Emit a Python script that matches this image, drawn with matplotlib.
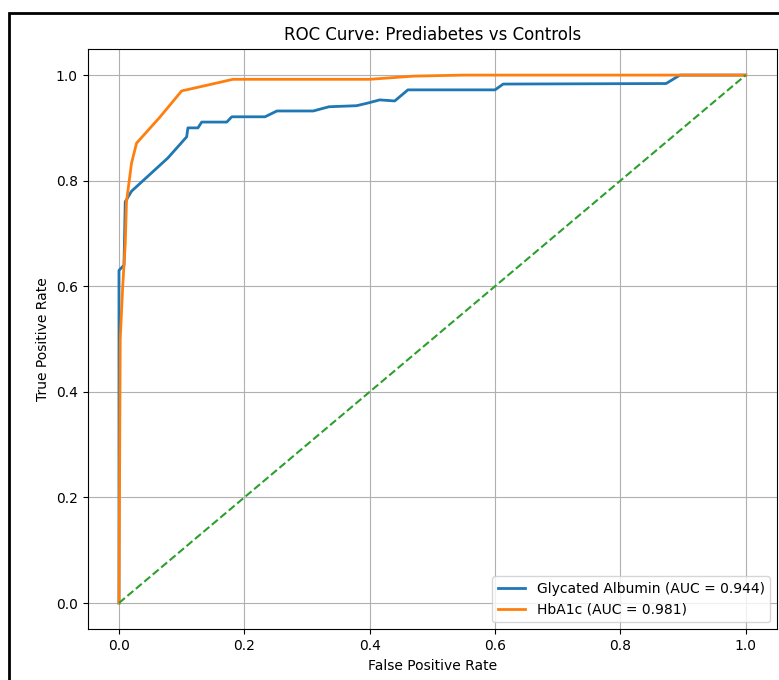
import matplotlib
matplotlib.use("Agg")
import matplotlib.pyplot as plt
from matplotlib.patches import Rectangle

# Glycated Albumin ROC
ga_fpr = [0.0, 0.0, 0.008, 0.01, 0.02, 0.078, 0.108, 0.11, 0.126, 0.132, 0.172, 0.18,
          0.233, 0.252, 0.31, 0.335, 0.379, 0.397, 0.416, 0.44, 0.461, 0.6, 0.613,
          0.873, 0.895, 1.0]
ga_tpr = [0.0, 0.63, 0.64, 0.76, 0.78, 0.843, 0.883, 0.90, 0.90, 0.911, 0.911, 0.921,
          0.921, 0.932, 0.932, 0.940, 0.942, 0.947, 0.953, 0.951, 0.972, 0.972, 0.983,
          0.984, 1.0, 1.0]

# HbA1c ROC
hb_fpr = [0.0, 0.002, 0.006, 0.01, 0.012, 0.02, 0.028, 0.065, 0.1, 0.13, 0.182,
          0.4, 0.47, 0.55, 1.0]
hb_tpr = [0.0, 0.50, 0.60, 0.68, 0.76, 0.833, 0.871, 0.92, 0.97, 0.978, 0.992,
          0.992, 0.998, 1.0, 1.0]

labels = ["Glycated Albumin (AUC = 0.944)", "HbA1c (AUC = 0.981)"]
diag = [0.0, 1.0]

fig = plt.figure(figsize=(7.79, 6.80), dpi=100)
ax = fig.add_axes([0.1125, 0.0744, 0.885, 0.854])

ax.plot(ga_fpr, ga_tpr, color="#1f77b4", lw=2, label=labels[0])
ax.plot(hb_fpr, hb_tpr, color="#ff7f0e", lw=2, label=labels[1])
ax.plot(diag, diag, linestyle="--", color="#2ca02c", lw=1.5)

ax.set_xlim(-0.05, 1.05)
ax.set_ylim(-0.05, 1.05)
ax.set_xlabel("False Positive Rate")
ax.set_ylabel("True Positive Rate")
ax.set_title("ROC Curve: Prediabetes vs Controls", fontsize=12)
ax.grid(True)
ax.legend(loc="lower right")

# outer frame around figure
fig.patches.append(Rectangle((9 / 779, -0.1), 1.2, (680 - 13) / 680 + 0.1,
                             transform=fig.transFigure, fill=False,
                             edgecolor="black", lw=2, zorder=10))

fig.savefig("out.png", dpi=100)
